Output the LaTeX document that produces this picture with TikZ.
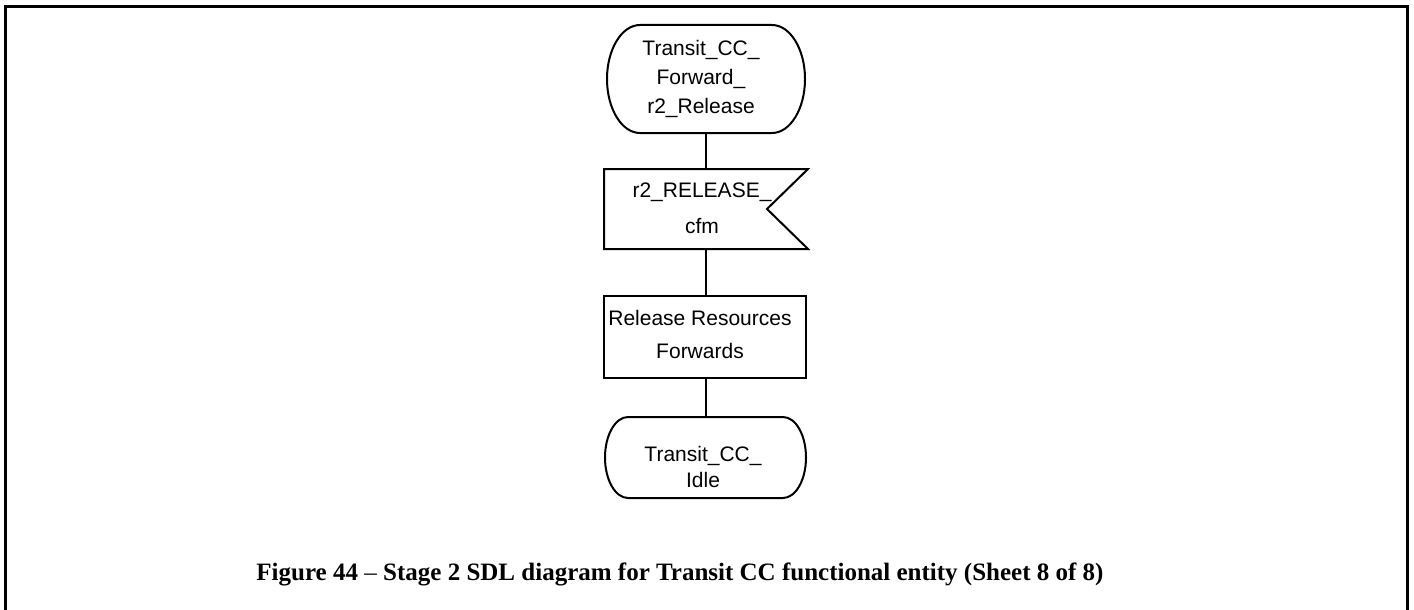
\documentclass[tikz,border=0pt]{standalone}
\usepackage{fontspec}
\usetikzlibrary{calc}
\setmainfont{Liberation Serif}
\newfontfamily\arialf{Liberation Sans}
\begin{document}
\begin{tikzpicture}[x=1pt,y=-1pt,
  outline/.style={line width=2pt,line join=miter},
  conn/.style={line width=2pt},
  frameline/.style={line width=3pt},
  shapebox/.style={draw=none,inner sep=0pt,outer sep=0pt},
  lbl/.style={inner sep=0pt,align=center,font=\arialf\fontsize{21}{29}\selectfont},
  caption/.style={inner sep=0pt,anchor=base,font=\bfseries\fontsize{25}{29}\selectfont}]
\useasboundingbox (0,0) rectangle (1414,610);
% frame (open at the bottom)
\draw[frameline] (5,610) -- (5,7) -- (1407,7) -- (1407,610);

% top state
\node[shapebox,minimum width=198pt,minimum height=108pt] (s1) at (706,79) {};
\draw[outline] ($(s1.north west)+(33,0)$) -- ($(s1.north east)+(-33,0)$)
  arc[start angle=-90,end angle=90,x radius=33,y radius=54]
  -- ($(s1.south west)+(33,0)$)
  arc[start angle=90,end angle=270,x radius=33,y radius=54] -- cycle;
\node[lbl] (s1t) at (701,79) {Transit\_CC\_\\Forward\_\\r2\_Release};

% input signal
\node[shapebox,minimum width=204pt,minimum height=80pt] (in1) at (706,209) {};
\draw[outline] (in1.north west) -- (in1.north east) -- ($(in1.east)+(-41,0)$)
  -- (in1.south east) -- (in1.south west) -- cycle;
\node[lbl,font=\arialf\fontsize{21}{36}\selectfont] (in1t) at (702,208) {r2\_RELEASE\_\\cfm};

% task
\node[shapebox,minimum width=202pt,minimum height=82pt] (t1) at (705,337) {};
\draw[outline] (t1.north west) rectangle (t1.south east);
\node[lbl,font=\arialf\fontsize{21}{33}\selectfont] (t1t) at (700,334) {Release Resources\\Forwards};

% bottom state
\node[shapebox,minimum width=201pt,minimum height=81pt] (s2) at (705.5,457.5) {};
\draw[outline] ($(s2.north west)+(23,0)$) -- ($(s2.north east)+(-23,0)$)
  arc[start angle=-90,end angle=90,x radius=23,y radius=40.5]
  -- ($(s2.south west)+(23,0)$)
  arc[start angle=90,end angle=270,x radius=23,y radius=40.5] -- cycle;
\node[lbl,font=\arialf\fontsize{21}{26}\selectfont] (s2t) at (703,467) {Transit\_CC\_\\Idle};

% connectors
\draw[conn] (s1.south) -- (s1.south |- in1.north);
\draw[conn] (in1.south) -- (in1.south |- t1.north);
\draw[conn] (in1.south |- t1.south) -- (in1.south |- s2.north);

% caption
\node[caption] (cap) at (680,580) {Figure 44 \textnormal{--} Stage 2 SDL diagram for Transit CC functional entity (Sheet 8 of 8)};
\end{tikzpicture}
\end{document}
